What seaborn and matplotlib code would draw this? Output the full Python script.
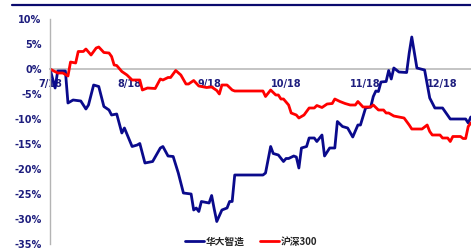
import matplotlib
matplotlib.use("Agg")
import matplotlib.pyplot as plt
from matplotlib.lines import Line2D
import seaborn as sns
import pandas as pd

# ---------------- data ----------------
mgi_dates = ["2023-07-18", "2023-07-20", "2023-07-21", "2023-07-24", "2023-07-25", "2023-07-27",
             "2023-07-30", "2023-08-01", "2023-08-02", "2023-08-04", "2023-08-06", "2023-08-08",
             "2023-08-10", "2023-08-11", "2023-08-13", "2023-08-15", "2023-08-16", "2023-08-19",
             "2023-08-21", "2023-08-22", "2023-08-24", "2023-08-27", "2023-08-30", "2023-08-31",
             "2023-09-02", "2023-09-04", "2023-09-06", "2023-09-08", "2023-09-11", "2023-09-12",
             "2023-09-13", "2023-09-14", "2023-09-15", "2023-09-18", "2023-09-19", "2023-09-20",
             "2023-09-21", "2023-09-23", "2023-09-25", "2023-09-26", "2023-09-27", "2023-09-28",
             "2023-10-09", "2023-10-10", "2023-10-12", "2023-10-13", "2023-10-15", "2023-10-17",
             "2023-10-18", "2023-10-19", "2023-10-21", "2023-10-22", "2023-10-23", "2023-10-24",
             "2023-10-26", "2023-10-27", "2023-10-29", "2023-10-30", "2023-11-01", "2023-11-02",
             "2023-11-04", "2023-11-06", "2023-11-07", "2023-11-09", "2023-11-11", "2023-11-13",
             "2023-11-15", "2023-11-16", "2023-11-18", "2023-11-20", "2023-11-21", "2023-11-22",
             "2023-11-23", "2023-11-24", "2023-11-26", "2023-11-27", "2023-11-28", "2023-11-29",
             "2023-12-01", "2023-12-04", "2023-12-05", "2023-12-06", "2023-12-08", "2023-12-11",
             "2023-12-13", "2023-12-15", "2023-12-18", "2023-12-21", "2023-12-27", "2023-12-28",
             "2023-12-29"]
mgi_values = [0.0, -3.8, -0.4, -0.4, -6.8, -6.2,
              -6.4, -8.0, -7.2, -3.2, -3.5, -7.5,
              -8.2, -9.2, -9.0, -12.8, -11.8, -15.5,
              -15.2, -14.9, -18.8, -18.5, -15.8, -15.5,
              -17.4, -17.5, -20.8, -24.8, -25.0, -28.2,
              -27.8, -28.5, -26.5, -26.8, -25.3, -28.0,
              -30.5, -28.2, -27.8, -26.5, -26.5, -21.2,
              -21.2, -20.8, -15.5, -16.9, -17.2, -18.5,
              -17.9, -17.9, -17.4, -17.6, -19.8, -15.8,
              -15.5, -13.8, -13.8, -14.5, -13.2, -17.4,
              -15.8, -15.8, -10.5, -11.5, -11.8, -13.6,
              -11.2, -11.2, -7.8, -7.6, -5.5, -4.4,
              -4.5, -2.6, -2.5, -0.3, -2.0, 0.2,
              -0.6, -0.7, 3.2, 6.4, 0.2, -0.2,
              -5.8, -7.8, -7.8, -10.0, -10.0, -10.8,
              -9.6]

hs300_dates = ["2023-07-18", "2023-07-21", "2023-07-23", "2023-07-25", "2023-07-26", "2023-07-28",
               "2023-07-29", "2023-07-31", "2023-08-01", "2023-08-03", "2023-08-05", "2023-08-06",
               "2023-08-08", "2023-08-10", "2023-08-11", "2023-08-12", "2023-08-13", "2023-08-15",
               "2023-08-17", "2023-08-19", "2023-08-22", "2023-08-23", "2023-08-25", "2023-08-28",
               "2023-08-30", "2023-08-31", "2023-09-02", "2023-09-03", "2023-09-05", "2023-09-07",
               "2023-09-09", "2023-09-10", "2023-09-12", "2023-09-14", "2023-09-16", "2023-09-17",
               "2023-09-19", "2023-09-21", "2023-09-22", "2023-09-23", "2023-09-25", "2023-09-27",
               "2023-09-28", "2023-10-09", "2023-10-10", "2023-10-12", "2023-10-14", "2023-10-15",
               "2023-10-16", "2023-10-17", "2023-10-19", "2023-10-20", "2023-10-22", "2023-10-23",
               "2023-10-25", "2023-10-27", "2023-10-29", "2023-10-30", "2023-11-01", "2023-11-03",
               "2023-11-05", "2023-11-06", "2023-11-08", "2023-11-10", "2023-11-12", "2023-11-14",
               "2023-11-15", "2023-11-17", "2023-11-20", "2023-11-21", "2023-11-23", "2023-11-25",
               "2023-11-26", "2023-11-27", "2023-11-29", "2023-12-01", "2023-12-03", "2023-12-05",
               "2023-12-06", "2023-12-10", "2023-12-12", "2023-12-13", "2023-12-14", "2023-12-17",
               "2023-12-18", "2023-12-20", "2023-12-21", "2023-12-22", "2023-12-25", "2023-12-26",
               "2023-12-27", "2023-12-28", "2023-12-29"]
hs300_values = [0.0, -0.8, -0.8, -1.4, 1.4, 1.2,
                3.5, 3.5, 4.0, 2.8, 4.2, 4.4,
                3.3, 3.2, 2.5, 0.8, 0.7, -0.5,
                -1.2, -2.2, -2.2, -4.2, -3.8, -3.9,
                -2.0, -2.2, -1.7, -1.7, -0.3, -1.2,
                -3.0, -3.0, -2.3, -3.4, -3.6, -3.7,
                -3.6, -4.3, -5.0, -3.2, -3.2, -4.2,
                -4.4, -4.4, -5.5, -4.2, -5.2, -5.2,
                -6.0, -6.0, -7.2, -8.8, -9.2, -9.8,
                -9.2, -7.8, -7.8, -7.3, -7.7, -7.0,
                -6.9, -6.0, -6.5, -6.9, -7.2, -7.2,
                -6.5, -7.6, -7.6, -7.2, -8.2, -8.2,
                -8.8, -8.8, -9.4, -9.6, -9.8, -11.2,
                -12.0, -12.0, -11.2, -12.5, -13.2, -13.2,
                -13.8, -13.8, -14.5, -13.5, -13.5, -13.9,
                -13.9, -11.5, -10.8]

series_names = ["华大智造", "沪深300"]
series_colors = ["#0A0A8C", "#FF0000"]

tick_dates = ["2023-07-18", "2023-08-18", "2023-09-18", "2023-10-18", "2023-11-18", "2023-12-18"]
tick_labels = ["7/18", "8/18", "9/18", "10/18", "11/18", "12/18"]
y_ticks = [-35, -30, -25, -20, -15, -10, -5, 0, 5, 10]

# ---------------- frame ----------------
df = pd.concat([
    pd.DataFrame({"date": pd.to_datetime(mgi_dates), "value": mgi_values, "series": series_names[0]}),
    pd.DataFrame({"date": pd.to_datetime(hs300_dates), "value": hs300_values, "series": series_names[1]}),
], ignore_index=True)

sns.set_style("white")
plt.rcParams["font.family"] = ["DejaVu Sans"]

W, H = 471, 250
fig = plt.figure(figsize=(W / 100, H / 100), dpi=100)
ax = fig.add_axes([50 / W, 1 - 244 / H, 1 - 50 / W, (244 - 19) / H])

sns.lineplot(data=df, x="date", y="value", hue="series",
             palette=dict(zip(series_names, series_colors)),
             hue_order=series_names, linewidth=2.0, legend=False, ax=ax,
             solid_joinstyle="round", solid_capstyle="round")

label_color = "#1E1E7E"
axis_gray = "#B4B4B4"

ax.set_ylim(-35, 10)
ax.set_yticks(y_ticks)
ax.set_yticklabels([f"{v}%" for v in y_ticks])
ax.set_xlim(pd.Timestamp("2023-07-18"), pd.Timestamp("2023-12-29 02:00"))
ax.set_xticks(pd.to_datetime(tick_dates))
ax.set_xticklabels(tick_labels)
ax.set_xlabel("")
ax.set_ylabel("")

for s in ["top", "right"]:
    ax.spines[s].set_visible(False)
ax.spines["bottom"].set_position(("data", 0))
ax.spines["bottom"].set_color("#C4C4C4")
ax.spines["bottom"].set_linewidth(1.4)
ax.spines["left"].set_color(axis_gray)
ax.spines["left"].set_linewidth(1.0)
ax.spines["bottom"].set_zorder(1)

ax.tick_params(axis="y", direction="out", length=3, width=0.8, color=axis_gray,
               labelsize=7, labelcolor=label_color, pad=3)
ax.tick_params(axis="x", direction="out", length=3, width=0.8, color=axis_gray,
               labelsize=7, labelcolor=label_color, pad=4)
for t in ax.get_xticklabels() + ax.get_yticklabels():
    t.set_fontweight("bold")

# decorative top rule
fig.add_artist(Line2D([12 / W, 1.0], [1 - 4.5 / H, 1 - 4.5 / H], color="#0A0A6E", linewidth=1.6))

# legend
handles = [Line2D([0], [0], color=c, linewidth=2.0) for c in series_colors]
leg = fig.legend(handles, series_names, loc="center", bbox_to_anchor=(251 / W, 1 - 241.5 / H),
                 ncol=2, frameon=False, handlelength=2.0, handletextpad=0.15, columnspacing=1.6,
                 borderaxespad=0, borderpad=0,
                 prop={"family": ["Noto Sans CJK SC", "DejaVu Sans"], "size": 7, "weight": "bold"})

fig.savefig("out.png", dpi=100)
